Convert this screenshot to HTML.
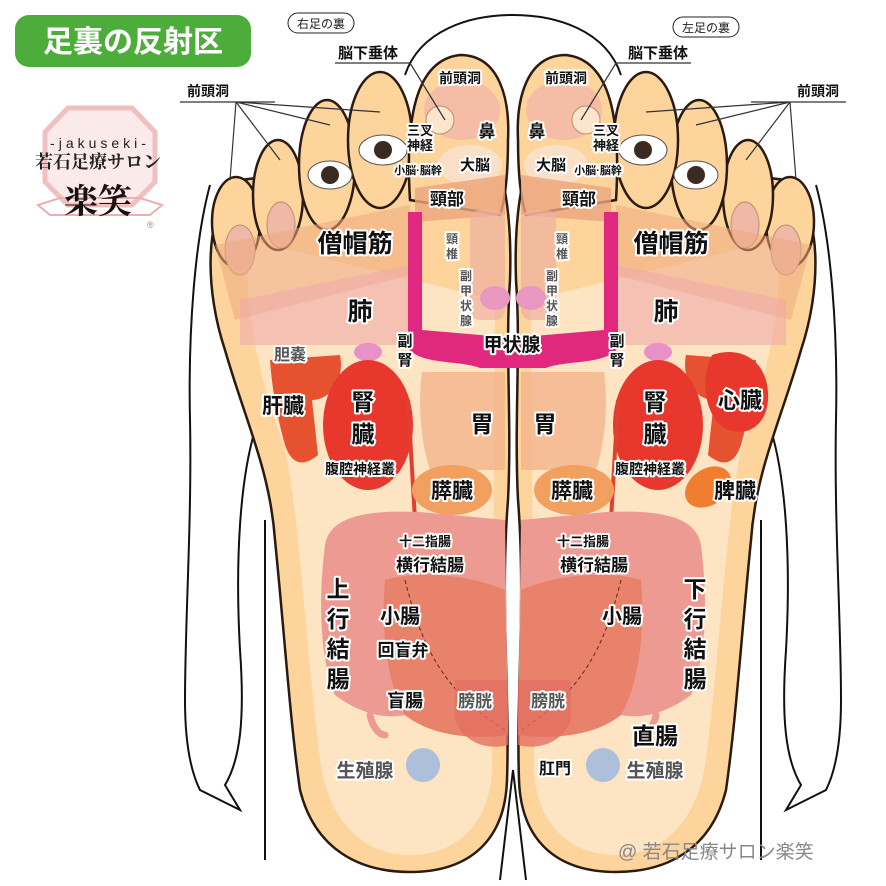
<!DOCTYPE html>
<html><head><meta charset="utf-8"><style>
html,body{margin:0;padding:0;background:#fff;}
svg{display:block;font-family:"Liberation Sans","Noto Sans CJK JP",sans-serif;}
.t{font-weight:bold;fill:#111;stroke:#fff;stroke-width:4px;paint-order:stroke;stroke-linejoin:round;}
.g{font-weight:bold;fill:#555;stroke:#fff;stroke-width:4px;paint-order:stroke;stroke-linejoin:round;}
</style></head><body>
<svg width="886" height="886" viewBox="0 0 886 886" xmlns="http://www.w3.org/2000/svg">
<defs>
<g id="foot">
  <path d="M230 190 C205 220,205 290,225 350 C245 420,270 470,275 540 C285 640,290 720,300 790 C315 850,360 872,410 872 C470 872,505 840,507 780 C510 700,500 600,508 500 C512 420,505 350,510 280 C512 220,505 170,490 150 L240 180 Z" fill="#fcd49c" stroke="#2a1a10" stroke-width="2.5"/>
  <path d="M250 240 C240 300,260 380,285 450 C300 520,305 640,320 760 C330 830,370 855,410 855 C460 855,490 820,492 770 L495 300 Z" fill="#fde6c6" opacity="0.9"/>
  <ellipse cx="236" cy="222" rx="24" ry="45" fill="#fcd49c" stroke="#2a1a10" stroke-width="2.5"/>
  <ellipse cx="278" cy="195" rx="25" ry="55" fill="#fcd49c" stroke="#2a1a10" stroke-width="2.5"/>
  <ellipse cx="327" cy="165" rx="28" ry="65" fill="#fcd49c" stroke="#2a1a10" stroke-width="2.5"/>
  <ellipse cx="380" cy="140" rx="32" ry="68" fill="#fcd49c" stroke="#2a1a10" stroke-width="2.5"/>
  <path d="M410 200 C405 120,415 60,460 55 C500 55,510 100,508 140 C508 175,505 200,500 215 Z" fill="#fcd49c" stroke="#2a1a10" stroke-width="2.5"/>
  <ellipse cx="462" cy="110" rx="38" ry="30" fill="#f2b6a8" opacity="0.8"/>
  <ellipse cx="470" cy="165" rx="32" ry="20" fill="#fbe0c8"/>
  <circle cx="440" cy="120" r="14" fill="#fde4cc" stroke="#b89070" stroke-width="1"/>
  <ellipse cx="240" cy="250" rx="15" ry="25" fill="#f0b8a6" stroke="#b89070"/>
  <ellipse cx="281" cy="225" rx="14" ry="23" fill="#f0b8a6" stroke="#b89070"/>
  <ellipse cx="330" cy="175" rx="22" ry="14" fill="#fff" stroke="#555"/>
  <circle cx="330" cy="175" r="9" fill="#3a2a22"/>
  <ellipse cx="383" cy="150" rx="24" ry="15" fill="#fff" stroke="#555"/>
  <circle cx="383" cy="150" r="9" fill="#3a2a22"/>
  <path d="M415 188 L505 175 L505 215 L415 222 Z" fill="#eca47e" opacity="0.8"/>
  <rect x="470" y="210" width="35" height="110" rx="10" fill="#f0b0a0" opacity="0.7"/>
  <ellipse cx="495" cy="298" rx="15" ry="12" fill="#e898c0"/>
  <path d="M215 245 L410 205 L410 275 L235 320 Z" fill="#eea880" opacity="0.55"/>
  <path d="M240 300 L410 265 L410 345 L240 345 Z" fill="#f0aaa8" opacity="0.6"/>
  <path d="M408 212 L422 212 L422 330 L515 338 L515 368 L480 368 C460 360,420 365,408 348 Z" fill="#e0287e"/>
  <ellipse cx="368" cy="352" rx="14" ry="9" fill="#e890c8"/>
  <path d="M270 360 L340 355 C345 380,330 400,312 400 L318 455 C300 470,290 460,285 445 C278 420,272 390,270 360 Z" fill="#e65230"/>
  <ellipse cx="368" cy="425" rx="45" ry="65" fill="#e8382e"/>
  <path d="M408 400 L415 520" stroke="#e0402e" stroke-width="4"/>
  <path d="M422 372 L505 372 L505 470 L430 470 C420 440,418 400,422 372 Z" fill="#f2b48c" opacity="0.8"/>
  <ellipse cx="452" cy="490" rx="40" ry="25" fill="#f2a060"/>
  <path d="M325 545 C330 515,370 510,420 512 L505 520 L508 735 C470 740,430 735,405 715 C380 720,355 710,335 695 C320 660,318 600,325 545 Z" fill="#ec9a92"/>
  <path d="M385 580 C420 570,470 575,505 590 L508 735 C470 740,430 735,405 715 C390 690,380 640,385 580 Z" fill="#e8826a"/>
  <path d="M405 580 C420 640,440 690,505 730" stroke="#5a2a1a" stroke-width="1" stroke-dasharray="4 3" fill="none"/>
  <path d="M370 715 C372 725,378 735,385 735" stroke="#ec9a92" stroke-width="7" fill="none" stroke-linecap="round"/>
  <path d="M455 680 L508 680 L508 745 C490 750,465 745,455 720 Z" fill="#e46f62" opacity="0.8"/>
  <circle cx="423" cy="765" r="17" fill="#9fb8de" opacity="0.85"/>
</g>
</defs>

<g fill="none" stroke="#111" stroke-width="2">
  <path d="M405 75 C420 30,470 15,513 15 C556 15,606 30,621 75"/>
  <path d="M210 185 C195 240,188 330,190 420 C192 520,185 620,185 700 C185 740,190 770,200 790 L240 810 L225 785 C240 760,245 720,240 650 C235 560,240 480,255 430"/>
  <path d="M816 185 C831 240,838 330,836 420 C834 520,841 620,841 700 C841 740,836 770,826 790 L786 810 L801 785 C786 760,781 720,786 650 C791 560,786 480,771 430"/>
  <path d="M265 520 L265 860"/>
  <path d="M761 520 L761 860"/>
  <path d="M500 880 L513 770 L526 880"/>
</g>

<use href="#foot"/>
<use href="#foot" transform="translate(1026,0) scale(-1,1)"/>

<path d="M712 355 C740 345,770 360,768 400 C766 430,740 440,720 425 C705 410,700 380,712 355 Z" fill="#e8382e"/>
<ellipse cx="708" cy="487" rx="25" ry="18" fill="#ef7e30" transform="rotate(-35 708 487)"/>

<g stroke="#333" stroke-width="1.2" fill="none">
  <path d="M180 102 L275 102 M236 102 L230 180 M236 102 L280 160 M236 102 L330 125 M236 102 L380 112"/>
  <path d="M335 63 L410 63 L445 120"/>
  <path d="M846 102 L751 102 M790 102 L796 180 M790 102 L746 160 M790 102 L696 125 M790 102 L646 112"/>
  <path d="M691 63 L616 63 L581 120"/>
</g>

<rect x="15" y="15" width="236" height="52" rx="14" fill="#4cad3a"/>
<text x="133" y="52" text-anchor="middle" font-size="30" font-weight="bold" fill="#fff">足裏の反射区</text>

<polygon points="68,108 132,108 155,132 155,182 132,205 68,205 45,182 45,132" fill="#fbeaea" stroke="#f0c0c0" stroke-width="5"/>
<text x="100" y="148" text-anchor="middle" font-size="14" fill="#222" letter-spacing="4">-jakuseki-</text>
<text x="98" y="168" text-anchor="middle" font-size="18" font-weight="bold" fill="#222" font-family="Liberation Serif,Noto Serif CJK SC,serif">若石足療サロン</text>
<path d="M38 205 L60 198 L140 198 L162 205 L150 215 L50 215 Z" fill="none" stroke="#e8b0b0" stroke-width="2"/>
<text x="98" y="213" text-anchor="middle" font-size="34" font-weight="bold" fill="#1a1010" font-family="Noto Serif CJK SC,serif">楽笑</text>
<text x="147" y="228" font-size="9" fill="#d07070">®</text>

<rect x="288" y="13" width="66" height="20" rx="10" fill="#fff" stroke="#222"/>
<text x="321" y="28" text-anchor="middle" font-size="12" fill="#222">右足の裏</text>
<rect x="673" y="17" width="66" height="20" rx="10" fill="#fff" stroke="#222"/>
<text x="706" y="32" text-anchor="middle" font-size="12" fill="#222">左足の裏</text>

<g class="t" text-anchor="middle">
<text x="208" y="96" font-size="14">前頭洞</text>
<text x="368" y="58" font-size="15">脳下垂体</text>
<text x="460" y="83" font-size="14">前頭洞</text>
<text x="487" y="137" font-size="17">鼻</text>
<text x="420" y="135" font-size="13">三叉</text>
<text x="420" y="150" font-size="13">神経</text>
<text x="475" y="170" font-size="15">大脳</text>
<text x="418" y="174" font-size="11">小脳·脳幹</text>
<text x="447" y="205" font-size="17">頸部</text>
<text x="355" y="252" font-size="25">僧帽筋</text>
<text x="360" y="320" font-size="25">肺</text>
<text x="405" y="346" font-size="15">副</text>
<text x="405" y="365" font-size="15">腎</text>
<text x="512" y="351" font-size="19">甲状腺</text>
<text x="283" y="413" font-size="21">肝臓</text>
<text x="363" y="410" font-size="23">腎</text>
<text x="363" y="442" font-size="23">臓</text>
<text x="360" y="474" font-size="14">腹腔神経叢</text>
<text x="482" y="432" font-size="23">胃</text>
<text x="452" y="498" font-size="21">膵臓</text>
<text x="425" y="546" font-size="13">十二指腸</text>
<text x="430" y="571" font-size="17">横行結腸</text>
<text x="338" y="597" font-size="23">上</text>
<text x="338" y="627" font-size="23">行</text>
<text x="338" y="657" font-size="23">結</text>
<text x="338" y="687" font-size="23">腸</text>
<text x="400" y="623" font-size="20">小腸</text>
<text x="403" y="656" font-size="17">回盲弁</text>
<text x="405" y="707" font-size="18">盲腸</text>

<text x="818" y="96" font-size="14">前頭洞</text>
<text x="658" y="58" font-size="15">脳下垂体</text>
<text x="566" y="83" font-size="14">前頭洞</text>
<text x="537" y="137" font-size="17">鼻</text>
<text x="606" y="135" font-size="13">三叉</text>
<text x="606" y="150" font-size="13">神経</text>
<text x="551" y="170" font-size="15">大脳</text>
<text x="598" y="174" font-size="11">小脳·脳幹</text>
<text x="579" y="205" font-size="17">頸部</text>
<text x="671" y="252" font-size="25">僧帽筋</text>
<text x="666" y="320" font-size="25">肺</text>
<text x="617" y="346" font-size="15">副</text>
<text x="617" y="365" font-size="15">腎</text>
<text x="740" y="408" font-size="22">心臓</text>
<text x="655" y="410" font-size="23">腎</text>
<text x="655" y="442" font-size="23">臓</text>
<text x="650" y="474" font-size="14">腹腔神経叢</text>
<text x="545" y="432" font-size="23">胃</text>
<text x="572" y="498" font-size="21">膵臓</text>
<text x="735" y="498" font-size="21">脾臓</text>
<text x="583" y="546" font-size="13">十二指腸</text>
<text x="594" y="571" font-size="17">横行結腸</text>
<text x="622" y="623" font-size="20">小腸</text>
<text x="695" y="597" font-size="23">下</text>
<text x="695" y="627" font-size="23">行</text>
<text x="695" y="657" font-size="23">結</text>
<text x="695" y="687" font-size="23">腸</text>
<text x="655" y="744" font-size="23">直腸</text>
<text x="555" y="774" font-size="16">肛門</text>
</g>
<g class="g" text-anchor="middle">
<text x="452" y="243" font-size="12">頸</text>
<text x="452" y="258" font-size="12">椎</text>
<text x="466" y="280" font-size="12">副</text>
<text x="466" y="295" font-size="12">甲</text>
<text x="466" y="310" font-size="12">状</text>
<text x="466" y="325" font-size="12">腺</text>
<text x="562" y="243" font-size="12">頸</text>
<text x="562" y="258" font-size="12">椎</text>
<text x="552" y="280" font-size="12">副</text>
<text x="552" y="295" font-size="12">甲</text>
<text x="552" y="310" font-size="12">状</text>
<text x="552" y="325" font-size="12">腺</text>
<text x="290" y="360" font-size="16">胆嚢</text>
<text x="475" y="707" font-size="17">膀胱</text>
<text x="548" y="707" font-size="17">膀胱</text>
<text x="365" y="777" font-size="19">生殖腺</text>
<text x="655" y="777" font-size="19">生殖腺</text>
</g>
<text x="618" y="858" font-size="19" fill="#888">@ 若石足療サロン楽笑</text>
</svg>
</body></html>
